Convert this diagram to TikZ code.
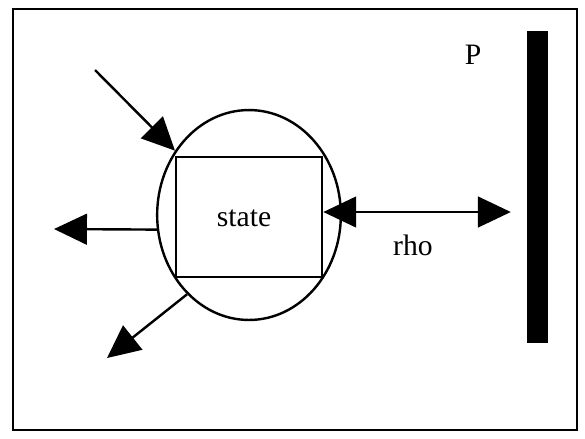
\documentclass[tikz,border=0pt]{standalone}
\usepackage{fontspec}
\setmainfont{Liberation Serif}
\usetikzlibrary{shapes.geometric, arrows.meta, positioning}

\begin{document}
\begin{tikzpicture}[x=0.016cm, y=-0.016cm, line width=1.1pt, font=\fontsize{13.5}{16}\selectfont,
    >={Triangle[length=15pt, width=14pt]}]
    \useasboundingbox (0,0) rectangle (585,438);
    \draw[line width=1.3pt] (13,9) rectangle (577,430);

    % Nodes
    \node (cell) [draw, ellipse, inner sep=0pt, minimum width=2.94cm, minimum height=3.36cm] at (249,215) {};
    \node (state) [draw, rectangle, inner sep=0pt, minimum width=2.34cm, minimum height=1.92cm] at (249,217) {};
    \node (statetext) at (244,218) {state};
    \node (wall) [fill=black, inner sep=0pt, minimum width=0.336cm, minimum height=4.99cm] at (537.5,187) {};
    \node (plabel) at (473,55) {P};
    \node (rho) at (413,245) {rho};
    \coordinate (in) at (95,70);
    \coordinate (outleft) at (54,229);
    \coordinate (outdown) at (107,358);

    % Flows
    \draw[->] (in) -- (cell.139);
    \draw[->] (cell.189) -- (outleft);
    \draw[->] (cell.232) -- (outdown);
    \draw[<->, shorten >=0.24cm] ([yshift=0.08cm]state.east) -- ([yshift=0.08cm]state.east -| wall.west);
\end{tikzpicture}
\end{document}
